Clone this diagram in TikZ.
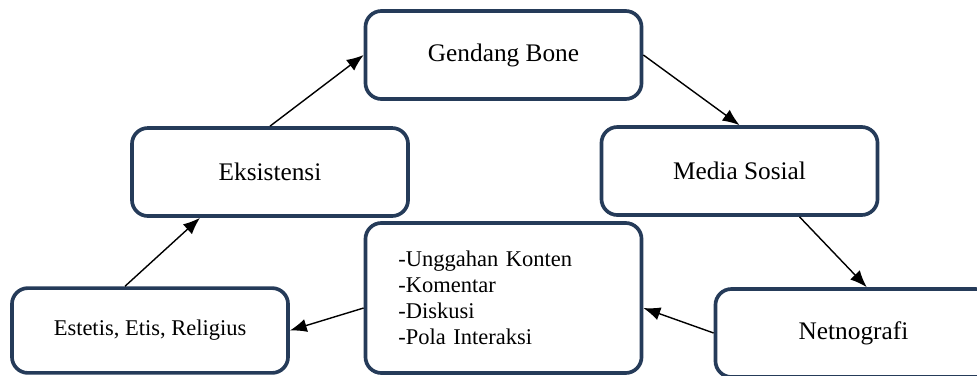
\documentclass[tikz,border=0pt]{standalone}
\usepackage{fontspec}
\setmainfont{Liberation Serif}
\usetikzlibrary{arrows.meta}
\definecolor{garisbiru}{HTML}{253B59}
\tikzset{
    kotak/.style={draw=garisbiru, line width=2.6pt, rounded corners=0.4cm, fill=white,
        minimum width=6.9cm, minimum height=2.2cm, font=\fontsize{18}{21}\selectfont},
    kotakkecil/.style={kotak, font=\fontsize{16}{18.4}\selectfont},
    panah/.style={->, line width=1pt}
}

\begin{document}
\begin{tikzpicture}[>={Latex[length=12pt,width=9.5pt]}, x=0.025cm, y=-0.025cm]
\useasboundingbox (0,0) rectangle (977,375);
\clip (0,0) rectangle (977,375);
% kotak-kotak
\node[kotak] (gendang) at (503.5,55) {Gendang Bone};
\node[kotak] (eksistensi) at (270,172) {Eksistensi};
\node[kotak] (media) at (739.5,171) {Media Sosial};
\node[kotakkecil, minimum height=2.12cm] (estetis) at (150,330.5) {Estetis, Etis, Religius};
\node[kotakkecil, minimum height=3.75cm, text width=5.25cm, inner xsep=0.825cm, align=left] (konten) at (503.5,298)
    {-Unggahan Konten\\-Komentar\\-Diskusi\\-Pola Interaksi};
\node[kotak] (netnografi) at (853.5,333) {Netnografi};
% panah
\draw[panah] ([xshift=-0.625cm]estetis.north) -- ([xshift=-1.75cm]eksistensi.south);
\draw[panah] (eksistensi.north) -- (gendang.west);
\draw[panah] (gendang.east) -- (media.north);
\draw[panah] ([xshift=1.5cm]media.south) -- ([xshift=0.33cm]netnografi.north);
\draw[panah] (netnografi.west) -- ([yshift=-0.25cm]konten.east);
\draw[panah] ([yshift=-0.25cm]konten.west) -- (estetis.east);
\end{tikzpicture}
\end{document}
